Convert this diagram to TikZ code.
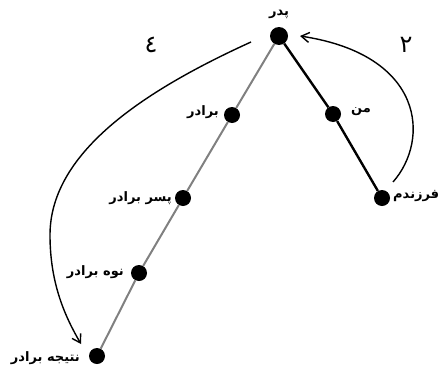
\documentclass[tikz,border=0pt]{standalone}
\usepackage{fontspec}
\newfontfamily\arabicfont[Script=Arabic]{DejaVu Sans}
\TeXXeTstate=1
\usetikzlibrary{arrows.meta}
\begin{document}
\begin{tikzpicture}[x=1pt,y=-1pt,
  dot/.style={circle,fill=black,inner sep=0pt,minimum size=16pt},
  lbl/.style={font=\arabicfont\bfseries\fontsize{13}{15}\selectfont,inner sep=1pt},
  num/.style={font=\arabicfont\fontsize{24}{26}\selectfont,inner sep=0pt},
  curve/.style={line width=1.4pt,-{Straight Barb[length=8pt,width=10pt,line width=1.4pt]}}]
\useasboundingbox (0,0) rectangle (441,372);
\node[dot,minimum size=18pt] (p) at (279,36) {};
\node[dot] (b) at (232,115) {};
\node[dot] (pb) at (183,198) {};
\node[dot] (nb) at (139,273) {};
\node[dot] (tb) at (97,356) {};
\node[dot] (m) at (333,114) {};
\node[dot] (f) at (382,198) {};
\draw[gray,line width=2pt] (p) -- (b) -- (pb) -- (nb) -- (tb);
\draw[line width=2.4pt] (p) -- (m) -- (f);
\node[lbl] (lp) at (279,14) {\beginR پدر\endR};
\node[lbl,anchor=east] (lb) at (220,112) {\beginR برادر\endR};
\node[lbl,anchor=east] (lpb) at (173,198) {\beginR پسر برادر\endR};
\node[lbl,anchor=east] (lnb) at (125,272) {\beginR نوه برادر\endR};
\node[lbl,anchor=east] (ltb) at (81,358) {\beginR نتیجه برادر\endR};
\node[lbl,anchor=west] (lm) at (350,112) {\beginR من\endR};
\node[lbl,anchor=west] (lf) at (392,196) {\beginR فرزندم\endR};
\node[num] (n4) at (151,45) {٤};
\node[num] (n2) at (406,45) {٢};
\coordinate (s1) at (251,42);
\coordinate (e1) at (81,344);
\draw[curve] (s1) .. controls (150,88) and (50,150) .. (50,235) .. controls (50,285) and (66,318) .. (e1);
\coordinate (s2) at (393,182);
\coordinate (e2) at (300,36);
\draw[curve] (s2) .. controls (430,140) and (425,55) .. (e2);
\end{tikzpicture}
\end{document}
